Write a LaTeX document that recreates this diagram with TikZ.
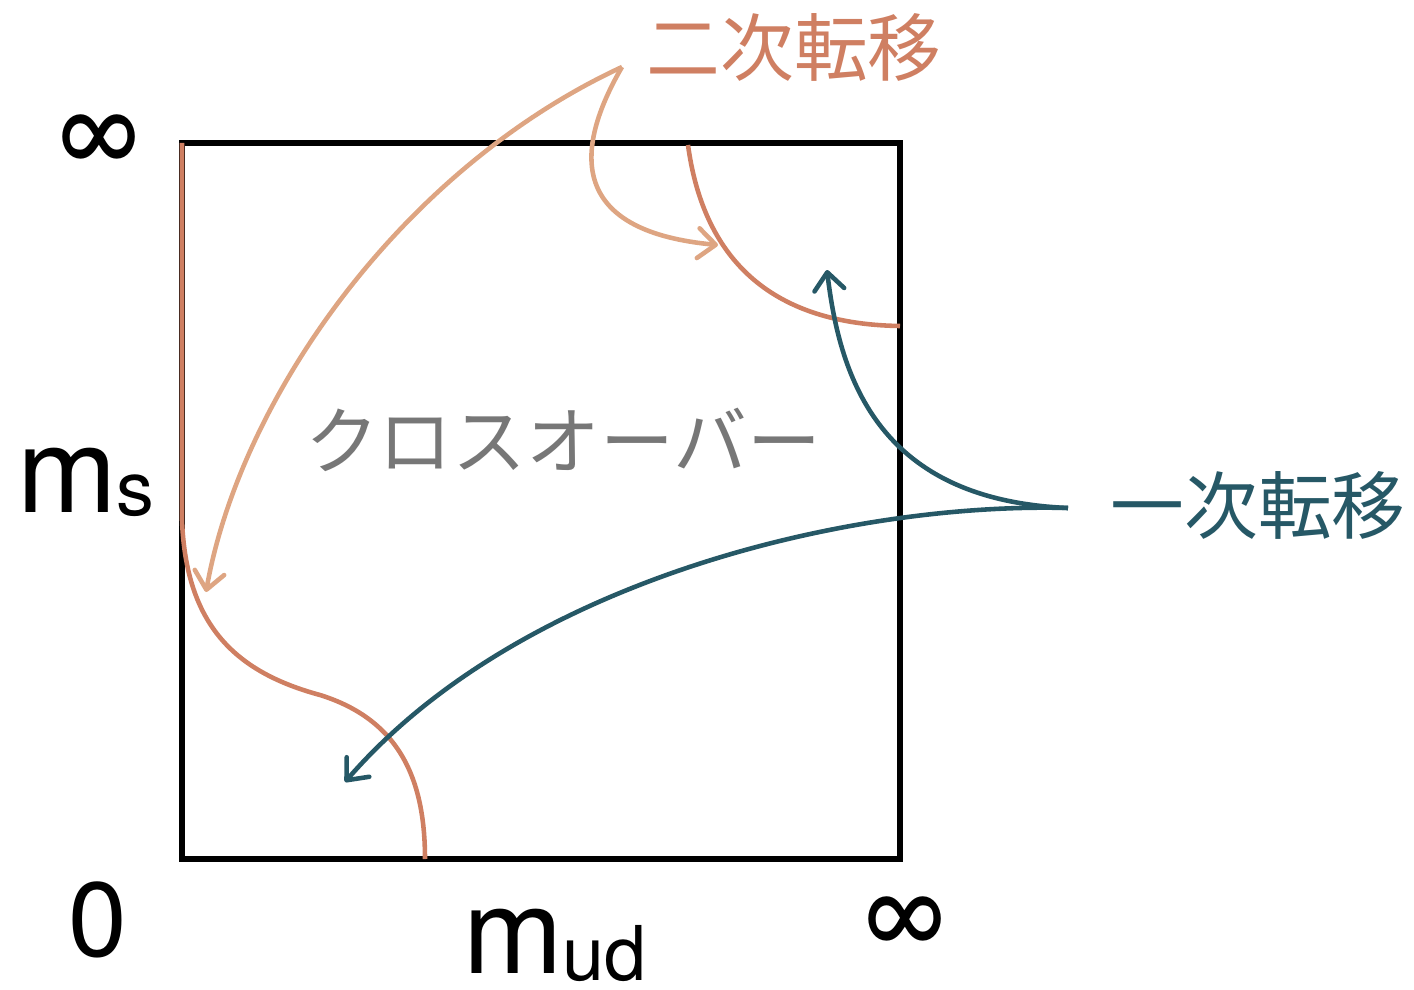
\documentclass[tikz,border=0pt]{standalone}
\usepackage{fontspec}
\setmainfont{TeX Gyre Heros}
\newfontfamily\cjk{Noto Sans CJK JP}
\usetikzlibrary{arrows.meta}
\definecolor{sal}{RGB}{207,127,98}
\definecolor{lsal}{RGB}{222,165,130}
\definecolor{tealx}{RGB}{38,88,102}
\definecolor{greyx}{RGB}{119,119,119}
\begin{document}
\begin{tikzpicture}[x=0.02cm,y=-0.02cm,
  boxline/.style={line width=3pt,black},
  transline/.style={line width=2.6pt,sal},
  ptr/.style={line width=2.6pt,lsal,-{Straight Barb[length=10pt,width=17pt,line cap=round,line join=round]}},
  tptr/.style={line width=2.6pt,tealx,-{Straight Barb[length=10pt,width=17pt,line cap=round,line join=round]}},
  lbl/.style={inner sep=0pt},
  jlbl/.style={inner sep=0pt,font=\cjk\fontsize{42}{42}\selectfont}]
\useasboundingbox (0,0) rectangle (1414,990);
% frame
\coordinate (bl) at (182,859);
\coordinate (tr) at (900,143);
\draw[boxline] (bl) rectangle (tr);
% second-order transition lines
\coordinate (s1a) at (182,143);
\coordinate (s1b) at (182,520);
\coordinate (s1c) at (320,695);
\coordinate (s1d) at (425,859);
\draw[transline] (s1a) -- (s1b) .. controls (186,625) and (235,672) .. (s1c)
  .. controls (400,720) and (425,780) .. (s1d);
\coordinate (s2a) at (688,145);
\coordinate (s2b) at (900,326);
\draw[transline] (s2a) .. controls (702,248) and (760,324) .. (s2b);
% labels
\node[jlbl,text=sal] (second) at (794,47) {二次転移};
\node[jlbl,text=tealx] (first) at (1258,505) {一次転移};
\node[jlbl,text=greyx] (cross) at (563,440) {クロスオーバー};
\node[lbl,font=\fontsize{62}{62}\selectfont] (inftop) at (99,140) {∞};
\node[lbl,font=\fontsize{62}{62}\selectfont] (infright) at (905,922) {∞};
\node[lbl,font=\fontsize{60}{60}\selectfont] (zero) at (98,920) {0};
\node[lbl,anchor=base west] (ms) at (17,512) {\fontsize{68}{68}\selectfont m\raisebox{-2pt}{\fontsize{43}{43}\selectfont s}};
\node[lbl,anchor=base west] (mud) at (463,973) {\fontsize{68}{68}\selectfont m\raisebox{-4pt}{\fontsize{43}{43}\selectfont ud}};
% pointers for second-order
\coordinate (p2) at (622,67);
\coordinate (p2tipA) at (206,592);
\coordinate (p2tipB) at (718,245);
\draw[ptr] (p2) .. controls (400,170) and (240,400) .. (p2tipA);
\draw[ptr] (p2) .. controls (568,160) and (578,232) .. (p2tipB);
% pointers for first-order
\coordinate (p1) at (1068,508);
\coordinate (p1tipA) at (827,270);
\coordinate (p1tipB) at (345,782);
\draw[tptr] (p1) .. controls (880,500) and (840,380) .. (p1tipA);
\draw[tptr] (p1) .. controls (850,502) and (520,580) .. (p1tipB);
\end{tikzpicture}
\end{document}
